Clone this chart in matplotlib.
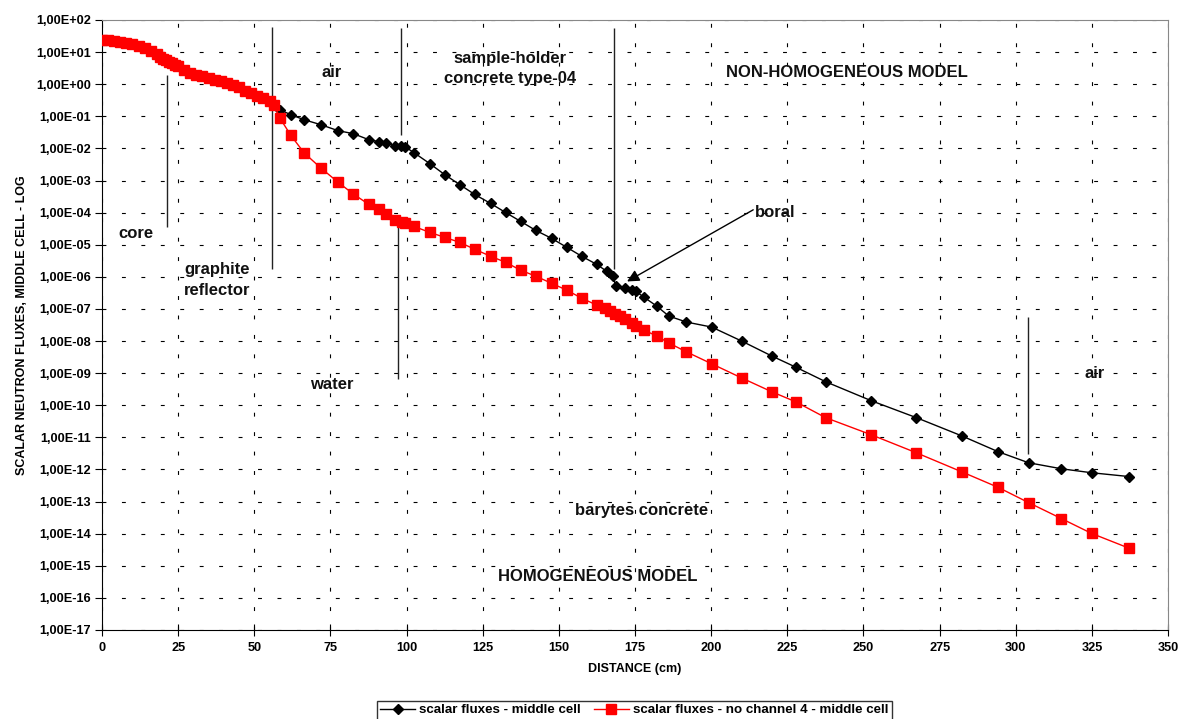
import math
import matplotlib
matplotlib.use("Agg")
import matplotlib.pyplot as plt
from matplotlib.ticker import FuncFormatter, FixedLocator

plt.rcParams["font.family"] = ["Liberation Sans", "DejaVu Sans"]
plt.rcParams["font.weight"] = "bold"

# distance (cm) of the calculation points in core + reflector (both runs)
dist_core = [0, 2, 4, 6, 8, 10, 12, 14, 16, 18, 19, 20, 21, 22, 23, 24, 25, 27, 29, 31,
             33, 35, 37, 39, 41, 43, 45, 47, 49, 51, 53, 55, 56.5]
core_part = [24, 23.5, 22.3, 21, 19.5, 18, 16, 13.5, 11, 8.5, 7.2, 6.3, 5.6, 5.0,
             4.5, 4.0, 3.6, 2.8, 2.3, 2.0, 1.8, 1.6, 1.4, 1.25, 1.08, 0.92, 0.79,
             0.63, 0.52, 0.43, 0.36, 0.29, 0.23]

dist_channel = dist_core + [
    58.4, 62.0, 66.4, 71.8, 77.5, 82.5, 87.6, 90.9, 93.2, 96.1, 98.2, 99.4,
    102.4, 107.6, 112.5, 117.4, 122.4, 127.6, 132.5, 137.5, 142.4, 147.6,
    152.6, 157.5, 162.4, 165.7, 167.7, 168.7, 171.6, 173.9, 175.2, 177.9,
    182.1, 186.1, 191.9, 200.2, 210.0, 219.9, 227.7, 237.6, 252.6, 267.4,
    282.2, 294.3, 304.2, 315.0, 324.9, 337.3]
flux_channel = core_part + [
    0.160, 0.112, 7.8e-2, 5.5e-2, 3.57e-2, 2.88e-2, 1.87e-2, 1.63e-2, 1.51e-2,
    1.22e-2, 1.2e-2, 1.14e-2, 7.4e-3, 3.37e-3, 1.53e-3, 7.5e-4, 3.67e-4, 1.93e-4,
    1.01e-4, 5.3e-5, 2.8e-5, 1.58e-5, 8.3e-6, 4.37e-6, 2.45e-6, 1.49e-6, 1.05e-6,
    5.1e-7, 4.4e-7, 3.84e-7, 3.57e-7, 2.34e-7, 1.23e-7, 6.0e-8, 3.9e-8, 2.72e-8,
    1.0e-8, 3.42e-9, 1.55e-9, 5.4e-10, 1.38e-10, 4.1e-11, 1.12e-11, 3.55e-12,
    1.62e-12, 1.05e-12, 7.9e-13, 6.0e-13]

dist_no_channel = dist_core + [
    58.4, 62.0, 66.4, 71.8, 77.5, 82.3, 87.6, 90.9, 93.2, 96.1, 98.4, 99.4,
    102.4, 107.6, 112.5, 117.4, 122.4, 127.6, 132.5, 137.5, 142.4, 147.6,
    152.6, 157.5, 162.4, 165.0, 166.7, 168.3, 170.0, 171.6, 173.9, 175.2, 177.9,
    182.1, 186.1, 191.9, 200.2, 210.0, 219.9, 227.7, 237.6, 252.6, 267.4,
    282.2, 294.3, 304.2, 315.0, 324.9, 337.3]
flux_no_channel = core_part + [
    8.85e-2, 2.55e-2, 7.2e-3, 2.48e-3, 8.85e-4, 3.94e-4, 1.80e-4, 1.26e-4, 8.8e-5,
    5.73e-5, 4.97e-5, 4.62e-5, 3.72e-5, 2.43e-5, 1.70e-5, 1.19e-5, 7.2e-6, 4.37e-6,
    2.84e-6, 1.60e-6, 1.05e-6, 6.3e-7, 3.84e-7, 2.16e-7, 1.32e-7, 1.06e-7, 8.5e-8,
    6.9e-8, 6.0e-8, 4.8e-8, 3.6e-8, 2.95e-8, 2.19e-8, 1.45e-8, 8.7e-9, 4.6e-9,
    1.95e-9, 7.1e-10, 2.63e-10, 1.29e-10, 4.1e-11, 1.20e-11, 3.3e-12, 8.5e-13,
    2.75e-13, 9.3e-14, 2.95e-14, 1.02e-14, 3.5e-15]

# material boundaries: (distance, top, bottom)
boundaries = [(21.3, 2.0, 3.5e-5), (55.8, 60, 1.7e-6), (98.1, 56, 2.7e-2),
              (97.1, 3.5e-5, 6.6e-10), (168.0, 56, 1.7e-6), (304.0, 5.6e-8, 3.1e-12)]

# region labels: (text, distance, flux)
labels = [("core", 11.0, 2.3e-5), ("graphite\nreflector", 37.8, 8.0e-7),
          ("air", 75.3, 2.3), ("sample-holder\nconcrete type-04", 134, 3.1),
          ("NON-HOMOGENEOUS MODEL", 244.5, 2.3), ("boral", 221, 1.02e-4),
          ("water", 75.3, 4.5e-10), ("barytes concrete", 177.2, 5.2e-14),
          ("HOMOGENEOUS MODEL", 162.8, 4.7e-16), ("air", 326, 1.0e-9)]


def sci_comma(v, pos):
    e = int(round(math.log10(v)))
    return "1,00E%s%02d" % ("+" if e >= 0 else "-", abs(e))


fig = plt.figure(figsize=(11.79, 7.19), dpi=100)
ax = fig.add_axes([0.0865, 0.1238, 0.9042, 0.8484])

ax.plot(dist_channel, flux_channel, color="black", lw=1, marker="D", ms=5.2,
        label="scalar fluxes - middle cell", zorder=3)
ax.plot(dist_no_channel, flux_no_channel, color="red", lw=1, marker="s", ms=7.3,
        label="scalar fluxes - no channel 4 - middle cell", zorder=4)

for x, top, bot in boundaries:
    ax.vlines(x, bot, top, color="#222222", lw=1, zorder=2)

for txt, x, y in labels:
    ax.text(x, y, txt, ha="center", va="center", fontsize=12, fontweight="bold",
            linespacing=1.45, color="#111111", zorder=5)

ax.annotate("", xy=(171.6, 6.5e-7), xytext=(214.6, 1.35e-4),
            arrowprops=dict(arrowstyle="-|>", color="black", lw=1,
                            mutation_scale=18), zorder=5)

ax.set_yscale("log")
ax.set_xlim(0, 350)
ax.set_ylim(1e-17, 1e2)
ax.xaxis.set_major_locator(FixedLocator(range(0, 351, 25)))
ax.yaxis.set_major_locator(FixedLocator([10.0 ** k for k in range(-17, 3)]))
ax.yaxis.set_minor_locator(FixedLocator([]))
ax.yaxis.set_major_formatter(FuncFormatter(sci_comma))

ax.grid(True, which="major", color="black", lw=0.8, linestyle=(0, (3.5, 14)))
ax.tick_params(axis="y", direction="out", length=5, labelsize=9.2, pad=3)
ax.tick_params(axis="x", direction="inout", length=8, labelsize=9.2, pad=5)
for lab in ax.get_xticklabels() + ax.get_yticklabels():
    lab.set_fontweight("bold")

for s in ["top", "right"]:
    ax.spines[s].set_color("#888888")
for s in ["left", "bottom"]:
    ax.spines[s].set_color("black")

ax.set_xlabel("DISTANCE (cm)", fontsize=9, fontweight="bold", labelpad=6)
ax.set_ylabel("SCALAR NEUTRON FLUXES, MIDDLE CELL - LOG", fontsize=9,
              fontweight="bold", labelpad=6)

leg = fig.legend(loc="center", bbox_to_anchor=(0.538, 0.0125), ncol=2,
                 fontsize=9.6, fancybox=False, frameon=True, borderpad=0.25,
                 handlelength=2.6, columnspacing=1.0, handletextpad=0.3)
leg.get_frame().set_edgecolor("black")
leg.get_frame().set_linewidth(1)
for t in leg.get_texts():
    t.set_fontweight("bold")

fig.savefig("out.png", dpi=100)
